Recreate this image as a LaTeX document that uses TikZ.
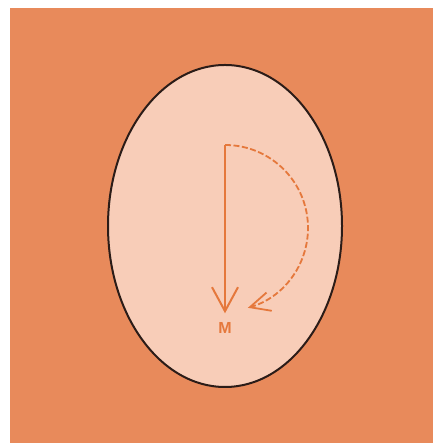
\documentclass[tikz,border=0pt]{standalone}
\usepackage{fontspec}
\setmainfont{Liberation Sans}
\usetikzlibrary{arrows.meta,shapes.geometric,positioning}
\definecolor{sheet}{HTML}{E88A5B}
\definecolor{eggfill}{HTML}{F8CDB8}
\definecolor{eggline}{HTML}{2B1C18}
\definecolor{force}{HTML}{E5783C}
\tikzset{
 every node/.append style={align=center},
 egg/.style={ellipse,draw=eggline,fill=eggfill,line width=2pt,inner sep=0pt,minimum width=234pt,minimum height=322pt},
 pole/.style={font=\fontsize{16}{18}\selectfont\bfseries,text=force,inner sep=1pt},
 drop/.style={-{Straight Barb[length=24pt,width=26pt,line width=2pt]},draw=force,line width=2pt},
 swing/.style={-{Straight Barb[length=20pt,width=19pt,line width=1.8pt]},draw=force,line width=1.8pt,dash pattern=on 6pt off 2.5pt},
}
\begin{document}
\begin{tikzpicture}[x=1pt,y=1pt]

\useasboundingbox (0,0) rectangle (433,443);
\fill[sheet] (10,0) rectangle (433,435);
\node[egg] (egg) at (225,217) {};
\coordinate (top) at (225,298);
\node[pole] (m) at (225,115) {M};
\draw[drop] (top) -- ([yshift=8pt]m.north);
\draw[swing] (top) arc[start angle=90,end angle=-74,radius=83];

\end{tikzpicture}
\end{document}
